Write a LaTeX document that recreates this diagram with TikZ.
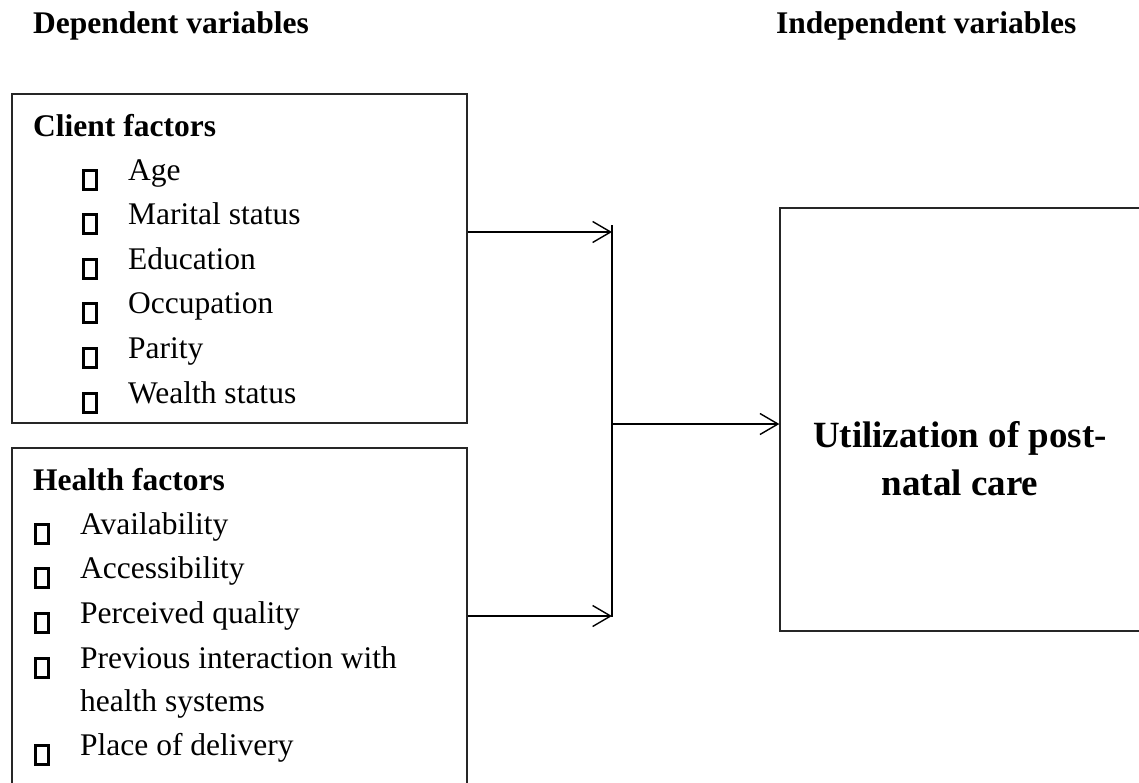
\documentclass[tikz,border=0pt]{standalone}
\usepackage{fontspec}
\setmainfont{Liberation Serif}
\usetikzlibrary{arrows.meta}
\tikzset{
  txt/.style={anchor=base west, inner sep=0pt, font=\fontsize{31.5}{38}\selectfont},
  hd/.style={anchor=base west, inner sep=0pt, font=\bfseries\fontsize{31.5}{38}\selectfont},
  bigt/.style={anchor=base, inner sep=0pt, font=\bfseries\fontsize{37}{48}\selectfont},
  bul/.style={draw, line width=2.6pt, minimum width=12.5pt, minimum height=18.5pt, inner sep=0pt},
  boxn/.style={draw=black!85, line width=1.3pt, inner sep=0pt},
  arr/.style={line width=1.4pt, -{Straight Barb[length=18pt,width=21pt,line width=1.4pt]}},
}
\begin{document}
\begin{tikzpicture}[x=1pt,y=-1pt]
\useasboundingbox (0,0) rectangle (1139,782);
\fill[white] (0,0) rectangle (1139,782);
\begin{scope}
\clip (0,0) rectangle (1139,782);
% boxes
\node[boxn, minimum width=455pt, minimum height=329pt] (client) at (239.5,258.5) {};
\node[boxn, minimum width=455pt, minimum height=360pt] (health) at (239.5,628) {};
\node[boxn, minimum width=380pt, minimum height=423pt] (outcome) at (970,419.5) {};
\end{scope}

% headings
\node[hd] (dep) at (33,33) {Dependent variables};
\node[hd] (ind) at (776,33) {Independent variables};

% client factors
\node[hd] (cf) at (33,136) {Client factors};
\node[bul] (cb1) at (90,180) {};
\node[txt] (c1) at (128,180) {Age};
\node[bul] (cb2) at (90,224) {};
\node[txt] (c2) at (128,224) {Marital status};
\node[bul] (cb3) at (90,269) {};
\node[txt] (c3) at (128,269) {Education};
\node[bul] (cb4) at (90,313) {};
\node[txt] (c4) at (128,313) {Occupation};
\node[bul] (cb5) at (90,358) {};
\node[txt] (c5) at (128,358) {Parity};
\node[bul] (cb6) at (90,403) {};
\node[txt] (c6) at (128,403) {Wealth status};

% health factors
\node[hd] (hf) at (33,490) {Health factors};
\node[bul] (hb1) at (42,534) {};
\node[txt] (h1) at (80,534) {Availability};
\node[bul] (hb2) at (42,578) {};
\node[txt] (h2) at (80,578) {Accessibility};
\node[bul] (hb3) at (42,623) {};
\node[txt] (h3) at (80,623) {Perceived quality};
\node[bul] (hb4) at (42,668) {};
\node[txt] (h4) at (80,668) {Previous interaction with};
\node[txt] (h4b) at (80,711) {health systems};
\node[bul] (hb5) at (42,755) {};
\node[txt] (h5) at (80,755) {Place of delivery};

% outcome text
\node[bigt] (u1) at (960,447) {Utilization of post-};
\node[bigt] (u2) at (960,495) {natal care};

% connectors
\coordinate (jt) at (612,232);
\coordinate (jb) at (612,616);
\coordinate (jm) at (612,424);
\coordinate (vtop) at (612,225);
\coordinate (vbot) at (612,617);
\draw[line width=1.9pt] (vtop) -- (vbot);
\draw[arr] (client.east |- jt) -- (jt);
\draw[arr] (health.east |- jb) -- (jb);
\draw[arr] (jm) -- (outcome.west |- jm);
\end{tikzpicture}
\end{document}
